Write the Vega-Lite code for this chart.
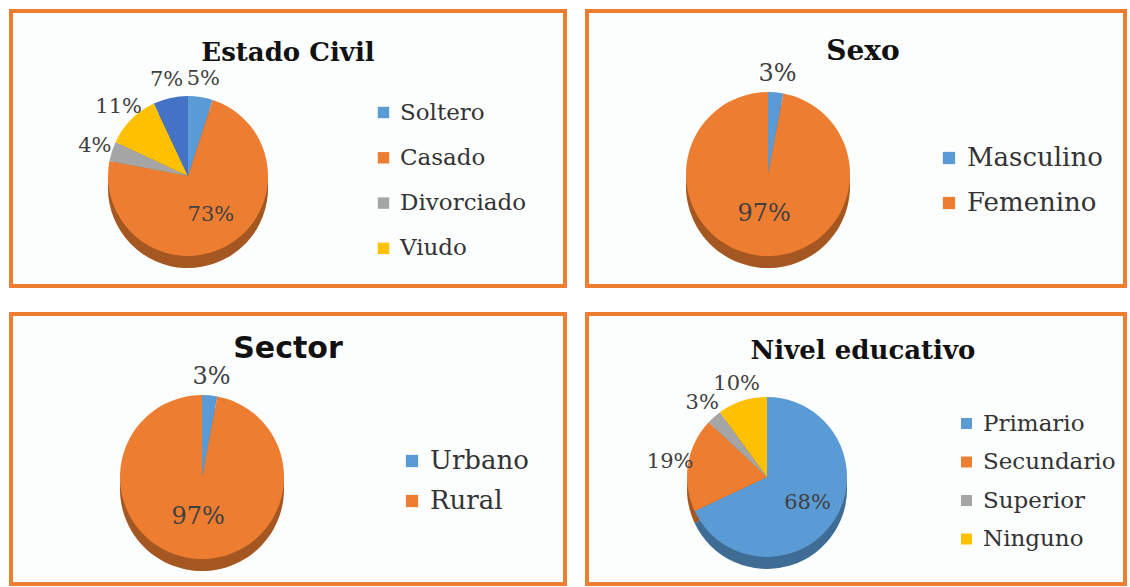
{
  "$schema": "https://vega.github.io/schema/vega-lite/v6.json",
  "padding": {"left": 9, "top": 9, "right": 0, "bottom": 0},
  "background": "white",
  "columns": 2,
  "spacing": {"column": 18, "row": 24},
  "resolve": {"scale": {"color": "independent", "theta": "independent"}, "legend": {"color": "independent"}},
  "config": {
    "view": {"stroke": "#ED7D31", "strokeWidth": 4, "fill": "#fcfdfd"},
    "title": {"baseline": "alphabetic", "color": "#111111", "anchor": "middle"},
    "text": {"font": "DejaVu Serif", "color": "#404040", "align": "center", "baseline": "middle"},
    "legend": {"title": null, "orient": "none", "direction": "vertical", "labelFont": "DejaVu Serif", "labelColor": "#333333", "symbolType": "square", "symbolStrokeWidth": 0, "labelOffset": 5}
  },
  "concat": [
    {
      "width": 554, "height": 275,
      "title": {"text": "Estado Civil", "font": "DejaVu Serif", "fontWeight": "bold", "fontSize": 26, "offset": -55},
      "data": {"values": [
        {"cat": "Soltero", "v": 0.05, "o": 1},
        {"cat": "Casado", "v": 0.73, "o": 2},
        {"cat": "Divorciado", "v": 0.04, "o": 3},
        {"cat": "Viudo", "v": 0.11, "o": 4},
        {"cat": "Conviviente", "v": 0.07, "o": 5}
      ]},
      "encoding": {
        "theta": {"field": "v", "type": "quantitative", "stack": true},
        "order": {"field": "o", "type": "quantitative"},
        "x": {"value": 177}
      },
      "layer": [
        {"mark": {"type": "arc", "radius": 80}, "encoding": {"y": {"value": 177}, "color": {"field": "cat", "type": "nominal",
          "scale": {"domain": ["Soltero", "Casado", "Divorciado", "Viudo", "Conviviente"], "range": ["#5B9BD5", "#ED7D31", "#A5A5A5", "#FFC000", "#4472C4"]},
          "legend": {"values": ["Soltero", "Casado", "Divorciado", "Viudo"], "legendX": 361, "legendY": 90, "labelFontSize": 23, "symbolSize": 130, "rowPadding": 21.3}}}},
        {"mark": {"type": "arc", "radius": 80, "color": "#000000", "opacity": 0.3}, "encoding": {"y": {"value": 177}}},
        {"mark": {"type": "arc", "radius": 80}, "encoding": {"y": {"value": 165}, "color": {"field": "cat", "type": "nominal",
          "scale": {"domain": ["Soltero", "Casado", "Divorciado", "Viudo", "Conviviente"], "range": ["#5B9BD5", "#ED7D31", "#A5A5A5", "#FFC000", "#4472C4"]},
          "legend": {"values": ["Soltero", "Casado", "Divorciado", "Viudo"], "legendX": 361, "legendY": 90, "labelFontSize": 23, "symbolSize": 130, "rowPadding": 21.3}}}},
        {"mark": {"type": "text", "radius": 45, "fontSize": 21}, "encoding": {"y": {"value": 165}, "text": {"condition": {"test": "datum.v > 0.5", "field": "v", "type": "quantitative", "format": ".0%"}, "value": ""}}},
        {"mark": {"type": "text", "radius": 98, "fontSize": 21}, "encoding": {"y": {"value": 165}, "text": {"condition": {"test": "datum.v < 0.5", "field": "v", "type": "quantitative", "format": ".0%"}, "value": ""}}}
      ]
    },
    {
      "width": 538, "height": 275,
      "title": {"text": "Sexo", "font": "DejaVu Serif", "fontWeight": "bold", "fontSize": 28, "offset": -55, "dx": 7},
      "data": {"values": [
        {"cat": "Masculino", "v": 0.03, "o": 1},
        {"cat": "Femenino", "v": 0.97, "o": 2}
      ]},
      "encoding": {
        "theta": {"field": "v", "type": "quantitative", "stack": true},
        "order": {"field": "o", "type": "quantitative"},
        "x": {"value": 181}
      },
      "layer": [
        {"mark": {"type": "arc", "radius": 82}, "encoding": {"y": {"value": 175}, "color": {"field": "cat", "type": "nominal",
          "scale": {"domain": ["Masculino", "Femenino"], "range": ["#5B9BD5", "#ED7D31"]},
          "legend": {"legendX": 349, "legendY": 134, "labelFontSize": 26, "symbolSize": 150, "rowPadding": 19}}}},
        {"mark": {"type": "arc", "radius": 82, "color": "#000000", "opacity": 0.3}, "encoding": {"y": {"value": 175}}},
        {"mark": {"type": "arc", "radius": 82}, "encoding": {"y": {"value": 163}, "color": {"field": "cat", "type": "nominal",
          "scale": {"domain": ["Masculino", "Femenino"], "range": ["#5B9BD5", "#ED7D31"]},
          "legend": {"legendX": 349, "legendY": 134, "labelFontSize": 26, "symbolSize": 150, "rowPadding": 19}}}},
        {"mark": {"type": "text", "radius": 40, "fontSize": 24}, "encoding": {"y": {"value": 163}, "text": {"condition": {"test": "datum.v > 0.5", "field": "v", "type": "quantitative", "format": ".0%"}, "value": ""}}},
        {"mark": {"type": "text", "radius": 100, "fontSize": 24}, "encoding": {"y": {"value": 163}, "text": {"condition": {"test": "datum.v < 0.5", "field": "v", "type": "quantitative", "format": ".0%"}, "value": ""}}}
      ]
    },
    {
      "width": 554, "height": 270,
      "title": {"text": "Sector", "font": "DejaVu Sans", "fontWeight": "bold", "fontSize": 30, "offset": -50},
      "data": {"values": [
        {"cat": "Urbano", "v": 0.03, "o": 1},
        {"cat": "Rural", "v": 0.97, "o": 2}
      ]},
      "encoding": {
        "theta": {"field": "v", "type": "quantitative", "stack": true},
        "order": {"field": "o", "type": "quantitative"},
        "x": {"value": 191}
      },
      "layer": [
        {"mark": {"type": "arc", "radius": 82}, "encoding": {"y": {"value": 175}, "color": {"field": "cat", "type": "nominal",
          "scale": {"domain": ["Urbano", "Rural"], "range": ["#5B9BD5", "#ED7D31"]},
          "legend": {"legendX": 388, "legendY": 134, "labelFontSize": 26, "symbolSize": 150, "rowPadding": 14}}}},
        {"mark": {"type": "arc", "radius": 82, "color": "#000000", "opacity": 0.3}, "encoding": {"y": {"value": 175}}},
        {"mark": {"type": "arc", "radius": 82}, "encoding": {"y": {"value": 163}, "color": {"field": "cat", "type": "nominal",
          "scale": {"domain": ["Urbano", "Rural"], "range": ["#5B9BD5", "#ED7D31"]},
          "legend": {"legendX": 388, "legendY": 134, "labelFontSize": 26, "symbolSize": 150, "rowPadding": 14}}}},
        {"mark": {"type": "text", "radius": 40, "fontSize": 24}, "encoding": {"y": {"value": 163}, "text": {"condition": {"test": "datum.v > 0.5", "field": "v", "type": "quantitative", "format": ".0%"}, "value": ""}}},
        {"mark": {"type": "text", "radius": 100, "fontSize": 24}, "encoding": {"y": {"value": 163}, "text": {"condition": {"test": "datum.v < 0.5", "field": "v", "type": "quantitative", "format": ".0%"}, "value": ""}}}
      ]
    },
    {
      "width": 538, "height": 270,
      "title": {"text": "Nivel educativo", "font": "DejaVu Serif", "fontWeight": "bold", "fontSize": 26, "offset": -50, "dx": 7},
      "data": {"values": [
        {"cat": "Primario", "v": 0.68, "o": 1},
        {"cat": "Secundario", "v": 0.19, "o": 2},
        {"cat": "Superior", "v": 0.03, "o": 3},
        {"cat": "Ninguno", "v": 0.10, "o": 4}
      ]},
      "encoding": {
        "theta": {"field": "v", "type": "quantitative", "stack": true},
        "order": {"field": "o", "type": "quantitative"},
        "x": {"value": 180}
      },
      "layer": [
        {"mark": {"type": "arc", "radius": 80}, "encoding": {"y": {"value": 175}, "color": {"field": "cat", "type": "nominal",
          "scale": {"domain": ["Primario", "Secundario", "Superior", "Ninguno"], "range": ["#5B9BD5", "#ED7D31", "#A5A5A5", "#FFC000"]},
          "legend": {"legendX": 368, "legendY": 98, "labelFontSize": 23, "symbolSize": 120, "rowPadding": 14.5}}}},
        {"mark": {"type": "arc", "radius": 80, "color": "#000000", "opacity": 0.3}, "encoding": {"y": {"value": 175}}},
        {"mark": {"type": "arc", "radius": 80}, "encoding": {"y": {"value": 163}, "color": {"field": "cat", "type": "nominal",
          "scale": {"domain": ["Primario", "Secundario", "Superior", "Ninguno"], "range": ["#5B9BD5", "#ED7D31", "#A5A5A5", "#FFC000"]},
          "legend": {"legendX": 368, "legendY": 98, "labelFontSize": 23, "symbolSize": 120, "rowPadding": 14.5}}}},
        {"mark": {"type": "text", "radius": 48, "fontSize": 21}, "encoding": {"y": {"value": 163}, "text": {"condition": {"test": "datum.v > 0.5", "field": "v", "type": "quantitative", "format": ".0%"}, "value": ""}}},
        {"mark": {"type": "text", "radius": 98, "fontSize": 21}, "encoding": {"y": {"value": 163}, "text": {"condition": {"test": "datum.v < 0.5", "field": "v", "type": "quantitative", "format": ".0%"}, "value": ""}}}
      ]
    }
  ]
}
